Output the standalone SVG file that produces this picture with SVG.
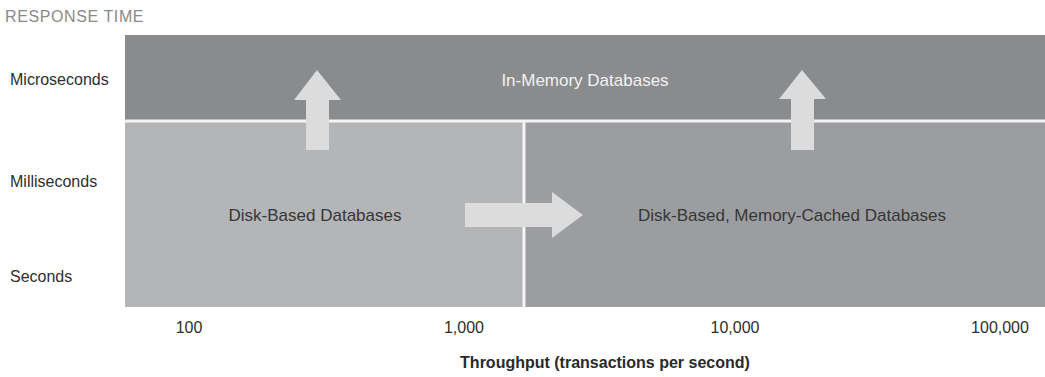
<svg xmlns="http://www.w3.org/2000/svg" width="1045" height="377" viewBox="0 0 1045 377">
  <style>
    text { font-family: "Liberation Sans", Arial, sans-serif; }
    .axis { font-size: 16px; fill: #2e2e2e; }
    .title { font-size: 16px; fill: #8a8a8a; letter-spacing: 0.6px; }
    .zone { font-size: 17px; fill: #363636; text-anchor: middle; }
    .zone-light { font-size: 17px; fill: #f2f2f2; text-anchor: middle; }
    .tick { font-size: 16px; fill: #2e2e2e; text-anchor: middle; }
    .xtitle { font-size: 16px; font-weight: bold; fill: #2a2a2a; text-anchor: middle; }
    .arrow { fill: #dcdcdd; }
    .divider { stroke: #f4f4f4; stroke-width: 3; }
  </style>

  <rect width="1045" height="377" fill="#ffffff"/>

  <!-- Axis labels -->
  <text class="title" x="5" y="22">RESPONSE TIME</text>
  <text class="axis" x="10" y="85">Microseconds</text>
  <text class="axis" x="10" y="187">Milliseconds</text>
  <text class="axis" x="10" y="282">Seconds</text>

  <!-- Regions -->
  <g id="in-memory">
    <rect x="125" y="35" width="920" height="86" fill="#8a8b8d"/>
    <text class="zone-light" x="585" y="86">In-Memory Databases</text>
  </g>
  <g id="disk-based">
    <rect x="125" y="121" width="399" height="186" fill="#b4b5b7"/>
    <text class="zone" x="315" y="221">Disk-Based Databases</text>
  </g>
  <g id="memory-cached">
    <rect x="524" y="121" width="521" height="186" fill="#9c9da0"/>
    <text class="zone" x="792" y="221">Disk-Based, Memory-Cached Databases</text>
  </g>

  <!-- Region dividers -->
  <line class="divider" x1="125" y1="121" x2="1045" y2="121"/>
  <line class="divider" x1="524" y1="121" x2="524" y2="307"/>

  <!-- Connectors -->
  <g id="connectors">
    <polygon class="arrow" points="306,150 329,150 329,100 341,100 317,70 294,100 306,100"/>
    <polygon class="arrow" points="791,150 814,150 814,99 826,99 802,70 779,99 791,99"/>
    <polygon class="arrow" points="465,203 552,203 552,192 583,215 552,238 552,227 465,227"/>
  </g>

  <!-- Throughput scale -->
  <text class="tick" x="189" y="333">100</text>
  <text class="tick" x="464" y="333">1,000</text>
  <text class="tick" x="735" y="333">10,000</text>
  <text class="tick" x="1000" y="333">100,000</text>
  <text class="xtitle" x="605" y="368">Throughput (transactions per second)</text>
</svg>
